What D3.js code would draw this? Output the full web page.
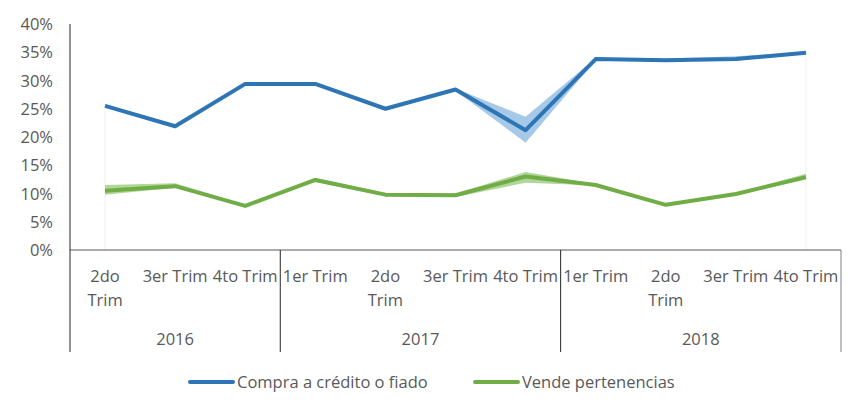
<!DOCTYPE html>
<html lang="es">
<head>
  <meta charset="UTF-8">
  <title>Compra a crédito / Vende pertenencias</title>
  <script src="https://d3js.org/d3.v7.min.js"></script>
  <style>
    body {
      margin: 0;
      background: white;
      font-family: "Open Sans", sans-serif;
    }
    svg {
      display: block;
    }
    text {
      fill: #595959;
      font-size: 16.5px;
    }
  </style>
</head>
<body>
<svg width="857" height="413"></svg>

<script>
  // quarters and their year groups
  const quarters = ["2do Trim", "3er Trim", "4to Trim",
                    "1er Trim", "2do Trim", "3er Trim", "4to Trim",
                    "1er Trim", "2do Trim", "3er Trim", "4to Trim"];
  const years = ["2016", "2017", "2018"];
  const yearCounts = [3, 4, 4];
  const yTicks = [0, 0.05, 0.10, 0.15, 0.20, 0.25, 0.30, 0.35, 0.40];

  // Compra a crédito o fiado: value, lower, upper
  const credito      = [0.255, 0.219, 0.294, 0.294, 0.250, 0.284, 0.212, 0.338, 0.336, 0.338, 0.349];
  const creditoLow   = [0.253, 0.217, 0.291, 0.292, 0.247, 0.282, 0.190, 0.336, 0.334, 0.335, 0.348];
  const creditoHigh  = [0.258, 0.221, 0.297, 0.296, 0.253, 0.286, 0.236, 0.340, 0.339, 0.343, 0.351];

  // Vende pertenencias: value, lower, upper
  const vende        = [0.105, 0.113, 0.078, 0.124, 0.098, 0.097, 0.130, 0.115, 0.080, 0.099, 0.129];
  const vendeLow     = [0.098, 0.110, 0.077, 0.121, 0.095, 0.094, 0.119, 0.114, 0.079, 0.097, 0.125];
  const vendeHigh    = [0.115, 0.118, 0.080, 0.128, 0.101, 0.100, 0.138, 0.117, 0.081, 0.101, 0.135];

  const svg = d3.select("svg");

  const plotLeft = 70, plotRight = 841, plotTop = 24, plotBottom = 250;

  const x = d3.scaleBand()
    .domain(d3.range(quarters.length))
    .range([plotLeft, plotRight]);

  const cx = i => x(i) + x.bandwidth() / 2;

  const y = d3.scaleLinear()
    .domain([0, 0.40])
    .range([plotBottom, plotTop]);

  // y labels
  svg.append("g")
    .selectAll("text")
    .data(yTicks)
    .join("text")
    .attr("x", 53)
    .attr("y", d => y(d) + 6)
    .attr("text-anchor", "end")
    .text(d => d3.format(".0%")(d));

  // faint edge lines of the areas
  [0, quarters.length - 1].forEach(i => {
    svg.append("line")
      .attr("x1", cx(i)).attr("x2", cx(i))
      .attr("y1", y(creditoHigh[i])).attr("y2", plotBottom)
      .attr("stroke", "#eef2ea")
      .attr("stroke-width", 1);
  });

  const series = [
    { v: credito, lo: creditoLow, hi: creditoHigh, line: "#2E75B6", band: "#9DC3E6" },
    { v: vende, lo: vendeLow, hi: vendeHigh, line: "#70AD47", band: "#A9D18E" }
  ];

  const area = d3.area()
    .x((d, i) => cx(i))
    .y0(d => y(d[0]))
    .y1(d => y(d[1]));

  const line = d3.line()
    .x((d, i) => cx(i))
    .y(d => y(d));

  series.forEach(s => {
    svg.append("path")
      .datum(s.lo.map((l, i) => [l, s.hi[i]]))
      .attr("d", area)
      .attr("fill", s.band)
      .attr("opacity", 0.9);

    svg.append("path")
      .datum(s.v)
      .attr("d", line)
      .attr("fill", "none")
      .attr("stroke", s.line)
      .attr("stroke-width", 4)
      .attr("stroke-linejoin", "round");
  });

  // axes lines
  svg.append("line")
    .attr("x1", plotLeft).attr("x2", plotRight)
    .attr("y1", plotBottom).attr("y2", plotBottom)
    .attr("stroke", "#595959");

  svg.append("line")
    .attr("x1", plotLeft).attr("x2", plotLeft)
    .attr("y1", plotTop).attr("y2", 352)
    .attr("stroke", "#262626");

  // quarter labels (wrap "2do Trim")
  const qg = svg.append("g");
  quarters.forEach((q, i) => {
    const t = qg.append("text")
      .attr("x", cx(i))
      .attr("y", 282)
      .attr("text-anchor", "middle");
    const lines = q.startsWith("2do") ? q.split(" ") : [q];
    lines.forEach((l, k) => {
      t.append("tspan")
        .attr("x", cx(i))
        .attr("dy", k === 0 ? 0 : 24)
        .text(l);
    });
  });

  // year groups
  let start = 0;
  years.forEach((yr, j) => {
    const end = start + yearCounts[j];
    const x0 = x(start);
    const x1 = end === quarters.length ? plotRight : x(end);
    svg.append("text")
      .attr("x", (x0 + x1) / 2)
      .attr("y", 345)
      .attr("text-anchor", "middle")
      .text(yr);
    svg.append("line")
      .attr("x1", x1).attr("x2", x1)
      .attr("y1", plotBottom).attr("y2", 352)
      .attr("stroke", end === quarters.length ? "#7f7f7f" : "#262626");
    start = end;
  });

  // legend
  const legendItems = [
    { name: "Compra a crédito o fiado", color: "#2E75B6", x: 190 },
    { name: "Vende pertenencias", color: "#70AD47", x: 475 }
  ];
  const lg = svg.append("g");
  legendItems.forEach(d => {
    lg.append("line")
      .attr("x1", d.x).attr("x2", d.x + 43)
      .attr("y1", 382).attr("y2", 382)
      .attr("stroke", d.color)
      .attr("stroke-width", 4)
      .attr("stroke-linecap", "round");
    lg.append("text")
      .attr("x", d.x + 47)
      .attr("y", 388)
      .text(d.name);
  });
</script>

</body>
</html>
